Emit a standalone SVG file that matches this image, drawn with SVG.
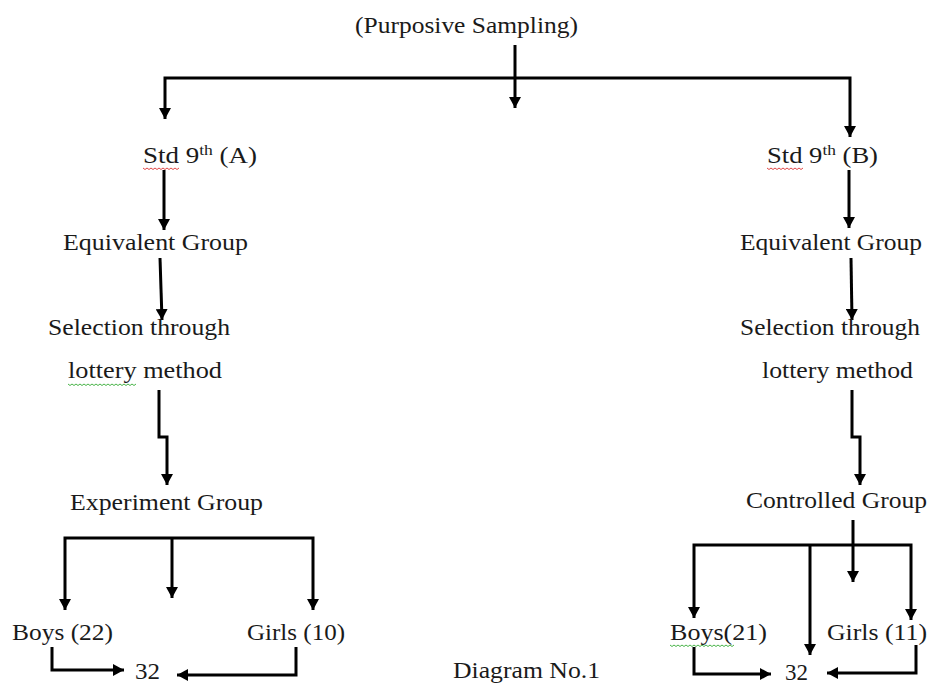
<svg xmlns="http://www.w3.org/2000/svg" width="930" height="684" viewBox="0 0 930 684">
<defs>
<style>
.t{font-family:"Liberation Serif","Times New Roman",serif;font-size:23px;fill:#1a1a1a}
.c{fill:none;stroke:#000;stroke-width:3;stroke-linejoin:miter}
.a{marker-end:url(#ah)}
.wr{fill:none;stroke:#d33;stroke-width:0.9}
.wg{fill:none;stroke:#3a3;stroke-width:0.9}
</style>
<marker id="ah" markerUnits="userSpaceOnUse" markerWidth="12" markerHeight="12" refX="11" refY="6" orient="auto">
<path d="M0,0 L11,6 L0,12 z" fill="#000"/>
</marker>
</defs>
<rect width="930" height="684" fill="#fff"/>
<g id="connectors">
<path class="c a" d="M515,45 V108"/>
<path class="c a" d="M515,78 H165 V119"/>
<path class="c a" d="M515,78 H850 V137"/>
<path class="c a" d="M164,170 V230"/>
<path class="c a" d="M160,258 L162,320"/>
<path class="c a" d="M159,390 V437 H167 V485"/>
<path class="c a" d="M172,538 H65 V610"/>
<path class="c a" d="M172,538 H313 V610"/>
<path class="c a" d="M172,537 V598"/>
<path class="c a" d="M52,647 V670 H124"/>
<path class="c a" d="M296,647 V675 H177"/>
<path class="c a" d="M849,170 V228"/>
<path class="c a" d="M851,258 L852,320"/>
<path class="c a" d="M852,390 V437 H860 V485"/>
<path class="c a" d="M810,545 H694 V618"/>
<path class="c a" d="M810,545 H911 V620"/>
<path class="c a" d="M810,545 V655"/>
<path class="c a" d="M853,520 V582"/>
<path class="c a" d="M694,647 V674 H771"/>
<path class="c a" d="M916,645 V673 H827"/>
</g>
<g id="purposive"><text class="t" x="355" y="33" textLength="223" lengthAdjust="spacingAndGlyphs">(Purposive Sampling)</text></g>
<g id="stdA"><text class="t" x="143" y="163" textLength="114" lengthAdjust="spacingAndGlyphs">Std 9<tspan font-size="15" dy="-8">th</tspan><tspan dy="8"> (A)</tspan></text>
<path class="wr" d="M143,168 l2,1.5 l2,-1.5 l2,1.5 l2,-1.5 l2,1.5 l2,-1.5 l2,1.5 l2,-1.5 l2,1.5 l2,-1.5 l2,1.5 l2,-1.5 l2,1.5 l2,-1.5 l2,1.5 l2,-1.5 l2,1.5 l2,-1.5"/></g>
<g id="stdB"><text class="t" x="767" y="163" textLength="111" lengthAdjust="spacingAndGlyphs">Std 9<tspan font-size="15" dy="-8">th</tspan><tspan dy="8"> (B)</tspan></text>
<path class="wr" d="M767,168 l2,1.5 l2,-1.5 l2,1.5 l2,-1.5 l2,1.5 l2,-1.5 l2,1.5 l2,-1.5 l2,1.5 l2,-1.5 l2,1.5 l2,-1.5 l2,1.5 l2,-1.5 l2,1.5 l2,-1.5 l2,1.5 l2,-1.5"/></g>
<g id="equivA"><text class="t" x="63" y="250" textLength="185" lengthAdjust="spacingAndGlyphs">Equivalent Group</text></g>
<g id="equivB"><text class="t" x="740" y="250" textLength="182" lengthAdjust="spacingAndGlyphs">Equivalent Group</text></g>
<g id="selA"><text class="t" x="48" y="335" textLength="182" lengthAdjust="spacingAndGlyphs">Selection through</text>
<text class="t" x="68" y="378" textLength="154" lengthAdjust="spacingAndGlyphs">lottery method</text>
<path class="wg" d="M68,384 l2,1.5 l2,-1.5 l2,1.5 l2,-1.5 l2,1.5 l2,-1.5 l2,1.5 l2,-1.5 l2,1.5 l2,-1.5 l2,1.5 l2,-1.5 l2,1.5 l2,-1.5 l2,1.5 l2,-1.5 l2,1.5 l2,-1.5 l2,1.5 l2,-1.5 l2,1.5 l2,-1.5 l2,1.5 l2,-1.5 l2,1.5 l2,-1.5 l2,1.5 l2,-1.5 l2,1.5 l2,-1.5 l2,1.5 l2,-1.5 l2,1.5 l2,-1.5"/></g>
<g id="selB"><text class="t" x="740" y="335" textLength="180" lengthAdjust="spacingAndGlyphs">Selection through</text>
<text class="t" x="762" y="378" textLength="151" lengthAdjust="spacingAndGlyphs">lottery method</text></g>
<g id="experiment"><text class="t" x="70" y="510" textLength="193" lengthAdjust="spacingAndGlyphs">Experiment Group</text></g>
<g id="controlled"><text class="t" x="746" y="508" textLength="181" lengthAdjust="spacingAndGlyphs">Controlled Group</text></g>
<g id="boysA"><text class="t" x="12" y="640" textLength="101" lengthAdjust="spacingAndGlyphs">Boys (22)</text></g>
<g id="girlsA"><text class="t" x="247" y="640" textLength="98" lengthAdjust="spacingAndGlyphs">Girls (10)</text></g>
<g id="boysB"><text class="t" x="670" y="640" textLength="97" lengthAdjust="spacingAndGlyphs">Boys(21)</text>
<path class="wg" d="M670,645 l2,1.5 l2,-1.5 l2,1.5 l2,-1.5 l2,1.5 l2,-1.5 l2,1.5 l2,-1.5 l2,1.5 l2,-1.5 l2,1.5 l2,-1.5 l2,1.5 l2,-1.5 l2,1.5 l2,-1.5 l2,1.5 l2,-1.5 l2,1.5 l2,-1.5 l2,1.5 l2,-1.5 l2,1.5 l2,-1.5 l2,1.5 l2,-1.5 l2,1.5 l2,-1.5 l2,1.5 l2,-1.5 l2,1.5 l2,-1.5"/></g>
<g id="girlsB"><text class="t" x="827" y="640" textLength="100" lengthAdjust="spacingAndGlyphs">Girls (11)</text></g>
<g id="totalA"><text class="t" x="135" y="679" textLength="25" lengthAdjust="spacingAndGlyphs">32</text></g>
<g id="totalB"><text class="t" x="785" y="680" textLength="23" lengthAdjust="spacingAndGlyphs">32</text></g>
<g id="caption"><text class="t" x="453" y="678" textLength="147" lengthAdjust="spacingAndGlyphs">Diagram No.1</text></g>
</svg>
